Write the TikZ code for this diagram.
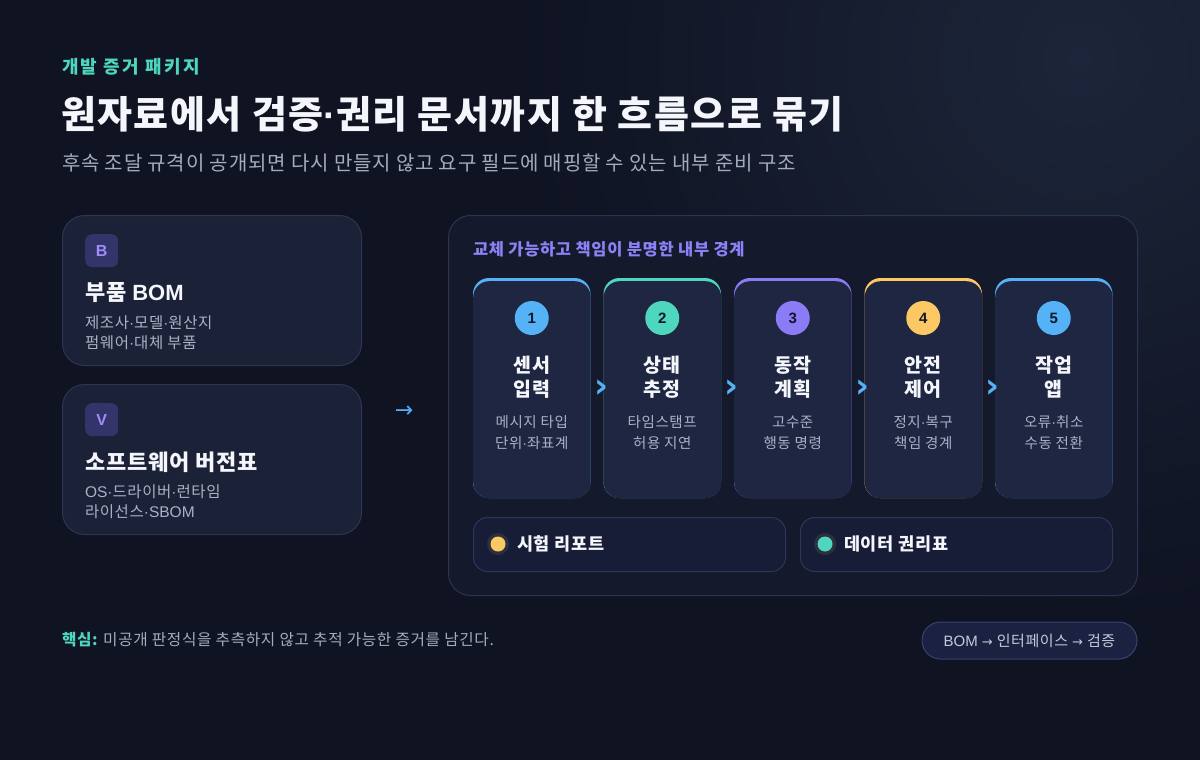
\documentclass[tikz,border=0pt]{standalone}
\usepackage{fontspec}
\setmainfont{Noto Sans CJK KR}[LetterSpace=4]
\newfontfamily\symf{DejaVu Sans}
\newfontfamily\latf{Liberation Sans}
\usetikzlibrary{calc}
\definecolor{bg}{HTML}{0F1322}
\definecolor{glow}{HTML}{1C2539}
\definecolor{cardfill}{HTML}{1B2137}
\definecolor{cardline}{HTML}{2D3551}
\definecolor{panelfill}{HTML}{141A2C}
\definecolor{panelline}{HTML}{2C3452}
\definecolor{stepfill}{HTML}{1E2641}
\definecolor{pillfill}{HTML}{171D36}
\definecolor{pillline}{HTML}{2E3656}
\definecolor{tagfill}{HTML}{1B2241}
\definecolor{tagline}{HTML}{384270}
\definecolor{badgefill}{HTML}{33356A}
\definecolor{badgetext}{HTML}{A08CF8}
\definecolor{accteal}{HTML}{4FD6BE}
\definecolor{accblue}{HTML}{55B2F7}
\definecolor{accpurple}{HTML}{8B7CF6}
\definecolor{accyellow}{HTML}{FBC864}
\definecolor{headpurple}{HTML}{8E80F5}
\definecolor{titlewhite}{HTML}{F4F6FB}
\definecolor{subgray}{HTML}{A3ACBD}
\definecolor{descgray}{HTML}{AAB2C5}
\definecolor{taggray}{HTML}{C3CADA}
\definecolor{numdark}{HTML}{0F172A}
\definecolor{dotring}{HTML}{2B303C}
\definecolor{arrowblue}{HTML}{5AA9F5}
\newcommand\myfs[2]{\fontsize{#1}{#2}\selectfont}
\newcommand\md{{\latf ·}}
\newcommand\tagarrow{\hspace{4pt}{\symf\myfs{13}{13}→}\hspace{4pt}}
\tikzset{
  txt/.style={inner sep=0pt, outer sep=0pt},
  leftcard/.style={draw=cardline, line width=1pt, fill=cardfill, rounded corners=22pt,
    minimum width=299pt, minimum height=150pt, inner sep=0pt, anchor=north west},
  badge/.style={fill=badgefill, rounded corners=7pt, minimum size=33pt, inner sep=0pt,
    anchor=north west, text=badgetext, font=\latf\bfseries\myfs{16}{16}},
  cardtitle/.style={txt, anchor=west, text=titlewhite, font=\bfseries\myfs{22}{24}},
  carddesc/.style={txt, anchor=west, text=descgray, font=\myfs{15.5}{20}, align=left},
  panelbox/.style={draw=panelline, line width=1pt, fill=panelfill, rounded corners=22pt,
    minimum width=689pt, minimum height=380pt, inner sep=0pt, anchor=north west},
  stepcard/.style={fill=stepfill, rounded corners=16pt, minimum width=117.5pt,
    minimum height=217pt, inner sep=0pt, anchor=north west},
  numc/.style={circle, minimum size=34pt, inner sep=0pt, text=numdark, font=\latf\bfseries\myfs{15}{15}},
  steptitle/.style={txt, align=center, text=titlewhite, font=\bfseries\myfs{19.5}{24}},
  stepdesc/.style={txt, align=center, text=descgray, font=\myfs{14.5}{21}},
  chev/.style={txt, text=accblue, font=\symf\bfseries\myfs{34}{34}},
  pill/.style={draw=pillline, line width=1pt, fill=pillfill, rounded corners=14pt,
    minimum width=312pt, minimum height=54pt, inner sep=0pt, anchor=north west},
  ring/.style={circle, fill=dotring, minimum size=22pt, inner sep=0pt},
  dot/.style={circle, minimum size=15pt, inner sep=0pt},
  pilltext/.style={txt, anchor=west, text=titlewhite, font=\bfseries\myfs{17.5}{20}},
}
\begin{document}
\begin{tikzpicture}[x=1pt,y=-1pt]
\useasboundingbox (0,0) rectangle (1200,760);
\fill[bg] (0,0) rectangle (1200,760);
\begin{scope}
\clip (0,0) rectangle (1200,760);
\shade[inner color=glow, outer color=bg] (1080,60) circle (560pt);
\end{scope}

% header
\node[txt, anchor=west, text=accteal, font=\bfseries\myfs{18}{18}\addfontfeatures{LetterSpace=13}] (eyebrow) at (62,67) {개발 증거 패키지};
\node[txt, anchor=west, text=titlewhite, font=\bfseries\myfs{38}{40}\addfontfeatures{LetterSpace=4}] (title) at (61,114) {원자료에서 검증\md 권리 문서까지 한 흐름으로 묶기};
\node[txt, anchor=west, text=subgray, font=\myfs{20}{22}] (subtitle) at (62,163) {후속 조달 규격이 공개되면 다시 만들지 않고 요구 필드에 매핑할 수 있는 내부 준비 구조};

% left cards
\node[leftcard] (bom) at (62,215) {};
\node[badge] (bomb) at (85,234) {B};
\node[cardtitle] (bomt) at (85,293) {부품 {\latf BOM}};
\node[carddesc] (bomd) at (85,333) {제조사\md 모델\md 원산지\\펌웨어\md 대체 부품};

\node[leftcard] (ver) at (62,384) {};
\node[badge] (verb) at (85,403) {V};
\node[cardtitle] (vert) at (85,462) {소프트웨어 버전표};
\node[carddesc] (verd) at (85,502) {{\latf OS·}드라이버\md 런타임\\라이선스{\latf ·SBOM}};

\node[txt, text=arrowblue, font=\symf\myfs{22}{22}] (arr) at (404,412) {→};

% panel
\node[panelbox] (panel) at (448,215) {};
\node[txt, anchor=west, text=headpurple, font=\bfseries\myfs{16.5}{18}] (phead) at (473,249) {교체 가능하고 책임이 분명한 내부 경계};

\foreach \i/\x/\col/\ta/\tb/\da/\db in {
  1/473/accblue/센서/입력/메시지 타입/단위\md 좌표계,
  2/603.5/accteal/상태/추정/타임스탬프/허용 지연,
  3/734/accpurple/동작/계획/고수준/행동 명령,
  4/864.5/accyellow/안전/제어/정지\md 복구/책임 경계,
  5/995/accblue/작업/앱/오류\md 취소/수동 전환}{
  \fill[\col, rounded corners=16pt] (\x,278) rectangle ++(117.5,220);
  \node[stepcard] (s\i) at (\x,281) {};
  \node[numc, fill=\col] (n\i) at (\x+58.75,318) {\i};
  \node[steptitle] (t\i) at (\x+58.75,377) {\ta\\\tb};
  \node[stepdesc] (d\i) at (\x+58.75,432.5) {\da\\\db};
}
\foreach \j/\x in {1/601,2/731.5,3/862,4/992.5}{
  \node[chev] (c\j) at (\x,388.5) {›};
}

\node[pill] (rep) at (473,517) {};
\node[ring] (repr) at (498,544) {};
\node[dot, fill=accyellow] (repd) at (repr) {};
\node[pilltext] (rept) at (517,544) {시험 리포트};

\node[pill] (dat) at (800,517) {};
\node[ring] (datr) at (825,544) {};
\node[dot, fill=accteal] (datd) at (datr) {};
\node[pilltext] (datt) at (844,544) {데이터 권리표};

% footer
\node[txt, anchor=west, text=subgray, font=\myfs{15.7}{18}] (core) at (62,640) {\textcolor{accteal}{\bfseries 핵심:} 미공개 판정식을 추측하지 않고 추적 가능한 증거를 남긴다.};
\node[draw=tagline, line width=1pt, fill=tagfill, rounded corners=18.5pt, minimum width=215pt,
  minimum height=37pt, inner sep=0pt, text=taggray, font=\myfs{15}{16}] (flow) at (1029.5,640.5)
  {{\latf BOM}\tagarrow 인터페이스\tagarrow 검증};
\end{tikzpicture}
\end{document}
